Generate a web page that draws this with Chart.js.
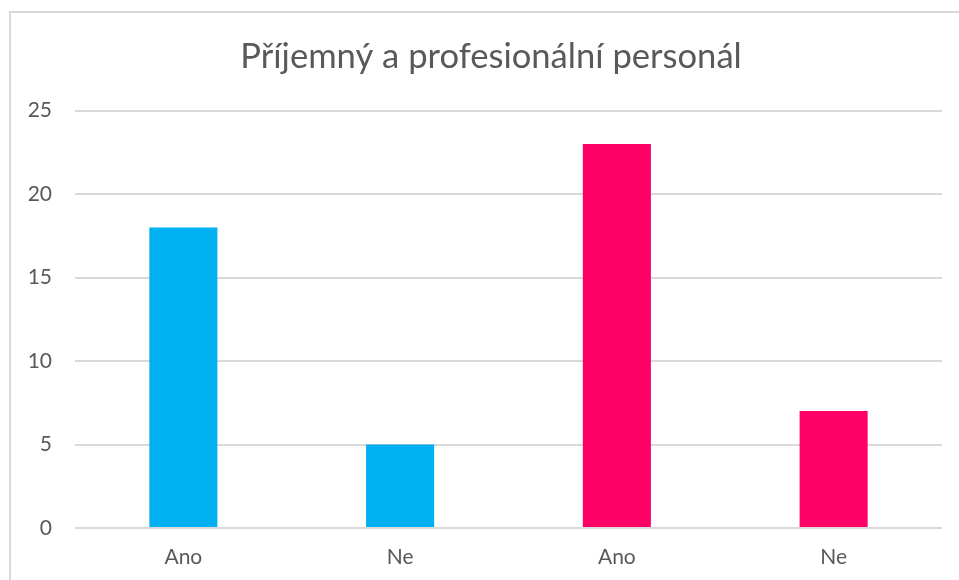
<!DOCTYPE html>
<html><head><meta charset="utf-8">
<script src="https://cdn.jsdelivr.net/npm/chart.js@4"></script>
<style>html,body{margin:0;padding:0;background:#fff}#wrap{position:relative;width:959px;height:580px}</style>
</head><body><div id="wrap"><canvas id="c" width="959" height="580"></canvas></div>
<script>
const titleText = "Příjemný a profesionální personál";
const categories = ["Ano", "Ne", "Ano", "Ne"];
const values = [18, 5, 23, 7];
const barColors = ["#00B0F0", "#00B0F0", "#FF0066", "#FF0066"];
const yTicks = [0, 5, 10, 15, 20, 25];

const frame = {
  id: 'frame',
  afterLayout(chart) {
    if (chart.titleBlock) { chart.titleBlock.left += 15; chart.titleBlock.right += 15; }
  },
  beforeDraw(chart) {
    const ctx = chart.ctx;
    ctx.save();
    ctx.fillStyle = '#fff';
    ctx.fillRect(0, 0, chart.width, chart.height);
    ctx.strokeStyle = '#d9d9d9';
    ctx.lineWidth = 2;
    ctx.strokeRect(10, 12, chart.width + 10, chart.height + 10);
    ctx.restore();
  }
};

new Chart(document.getElementById('c'), {
  type: 'bar',
  data: {
    labels: categories,
    datasets: [{
      data: values,
      backgroundColor: barColors,
      borderWidth: 0,
      categoryPercentage: 1,
      barPercentage: 0.314
    }]
  },
  options: {
    responsive: false,
    animation: false,
    devicePixelRatio: 1,
    layout: { padding: { left: 10, right: 17, top: 0, bottom: 12 } },
    plugins: {
      legend: { display: false },
      tooltip: { enabled: false },
      title: {
        display: true,
        text: titleText,
        color: '#595959',
        font: { family: 'Lato', size: 34.6, weight: 'normal' },
        padding: { top: 36, bottom: 33 }
      }
    },
    scales: {
      x: {
        afterFit(s) { s.height = 40; },
        grid: { display: false, drawTicks: false },
        border: { display: false },
        ticks: { color: '#595959', font: { family: 'Lato', size: 21 }, padding: 17, maxRotation: 0 }
      },
      y: {
        min: 0, max: 25,
        afterBuildTicks(s) { s.ticks = yTicks.map(v => ({ value: v })); },
        afterFit(s) { s.width = 65; },
        grid: { color: '#d9d9d9', lineWidth: 2, drawTicks: false },
        border: { display: false },
        ticks: { color: '#595959', font: { family: 'Lato', size: 21 }, padding: 23 }
      }
    }
  },
  plugins: [frame]
});
</script></body></html>
